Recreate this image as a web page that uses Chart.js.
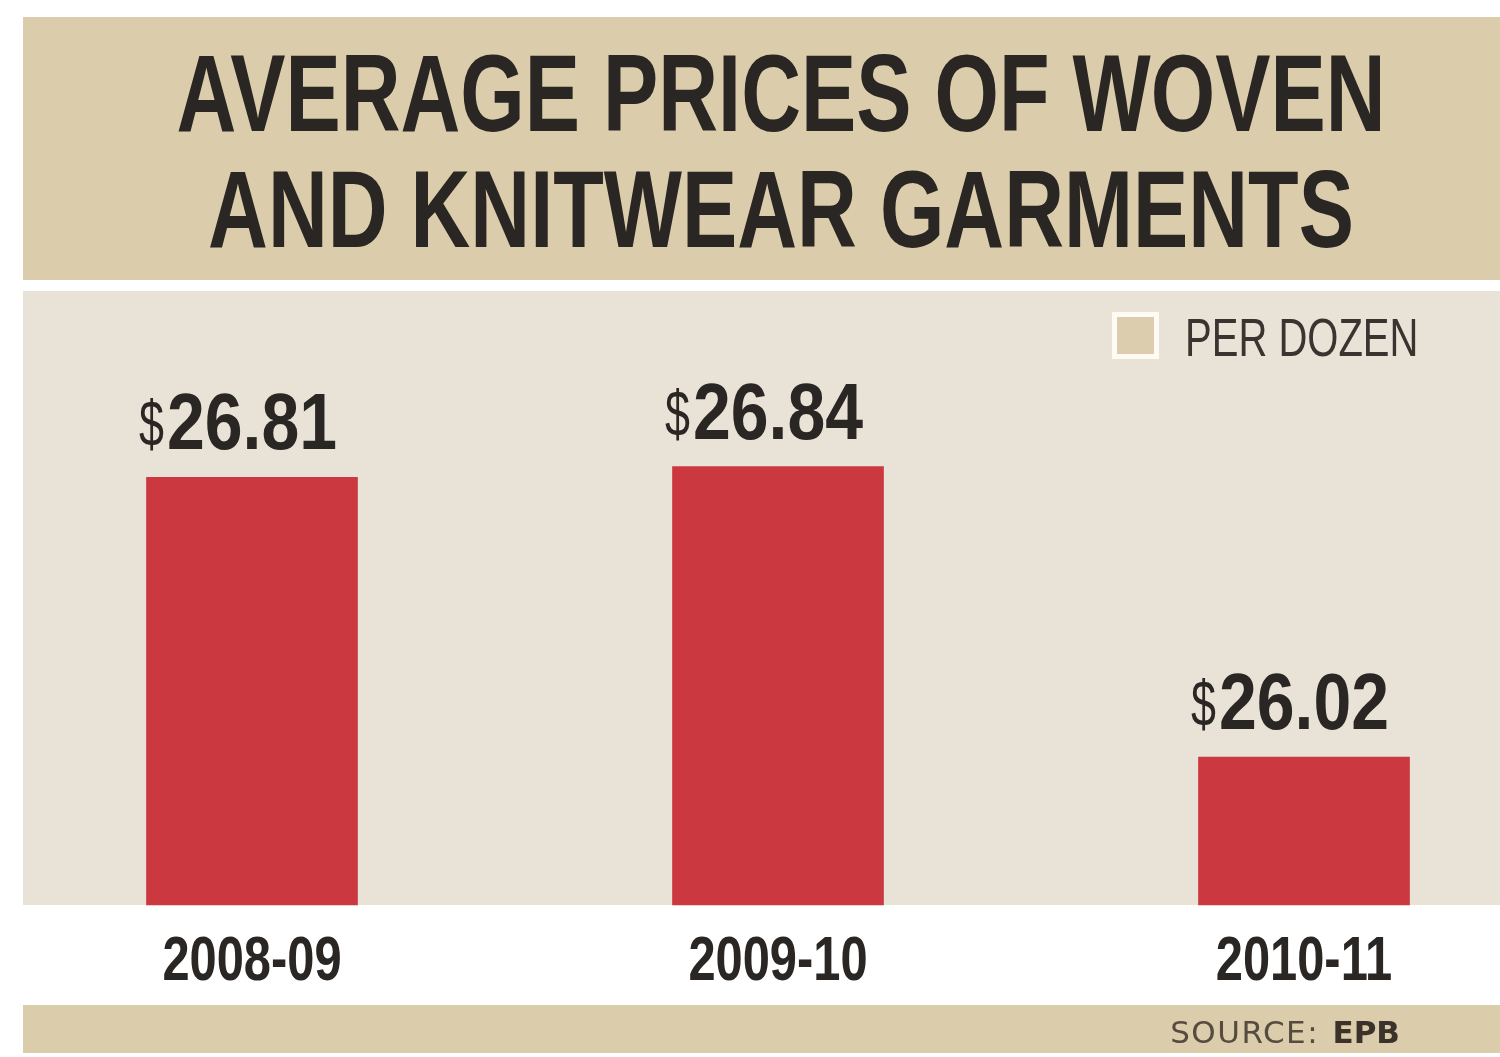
<!DOCTYPE html>
<html>
<head>
<meta charset="utf-8">
<script src="https://cdn.jsdelivr.net/npm/chart.js@4.4.1/dist/chart.umd.min.js"></script>
<style>
  html, body { margin: 0; padding: 0; background: #ffffff; }
  #wrap { width: 1500px; height: 1057px; }
</style>
</head>
<body>
<div id="wrap"><canvas id="priceChart" width="1500" height="1057"></canvas></div>
<script>
// data
const years = ["2008-09", "2009-10", "2010-11"];
const prices = [26.81, 26.84, 26.02];
const titleLines = ["AVERAGE PRICES OF WOVEN", "AND KNITWEAR GARMENTS"];
const legendText = "PER DOZEN";
const sourceName = "EPB";
const yMin = 25.602;
const yMax = 27.336;

const SANS = "'Liberation Sans', Arial, sans-serif";
const INK = "#2a2624";
const BAND_DARK = "#dbcdab";
const BAND_LIGHT = "#e9e2d6";
const BAR_RED = "#cc3840";

// draws text squeezed horizontally, like a condensed face
function narrowText(ctx, text, x, y, font, squeeze, align) {
    ctx.save();
    ctx.font = font;
    ctx.textAlign = "left";
    ctx.textBaseline = "alphabetic";
    const w = ctx.measureText(text).width * squeeze;
    let left = x;
    if (align === "center") left = x - w / 2;
    if (align === "right") left = x - w;
    ctx.translate(left, y);
    ctx.scale(squeeze, 1);
    ctx.fillText(text, 0, 0);
    ctx.restore();
    return w;
}

// backgrounds, title, legend, x labels, source line
const decorations = {
    id: "decorations",
    beforeDraw(chart) {
        const { ctx, chartArea: { top, bottom } } = chart;
        ctx.save();
        ctx.fillStyle = "#ffffff";
        ctx.fillRect(0, 0, chart.width, chart.height);
        ctx.fillStyle = BAND_DARK;
        ctx.fillRect(23, 17, chart.width - 23, top - 28); // title band
        ctx.fillStyle = BAND_LIGHT;
        ctx.fillRect(23, top, chart.width - 23, bottom - top); // plot band
        ctx.fillStyle = BAND_DARK;
        ctx.fillRect(23, 1005, chart.width - 23, 48); // source band
        ctx.restore();
    },
    afterDraw(chart) {
        const { ctx, chartArea: { top, bottom } } = chart;
        const x = chart.scales.x;
        ctx.save();
        // title
        ctx.fillStyle = INK;
        ctx.strokeStyle = INK;
        narrowText(ctx, titleLines[0], 781, 131, "bold 109px " + SANS, 0.76, "center");
        narrowText(ctx, titleLines[1], 781, 247, "bold 109px " + SANS, 0.76, "center");
        // legend
        ctx.fillStyle = "#fdfbf3";
        ctx.fillRect(1112, top + 21, 47, 47);
        ctx.fillStyle = "#dccdae";
        ctx.fillRect(1117, top + 26, 37, 37);
        ctx.fillStyle = "#3a3431";
        narrowText(ctx, legendText, 1185, top + 65, "53px " + SANS, 0.755, "left");
        // category labels under the bars
        ctx.fillStyle = INK;
        years.forEach((yr, i) => {
            narrowText(ctx, x.getLabelForValue(i), x.getPixelForValue(i), bottom + 75,
                "bold 63px " + SANS, 0.775, "center");
        });
        // source
        ctx.textAlign = "right";
        ctx.textBaseline = "alphabetic";
        ctx.font = "bold 31px 'DejaVu Sans', sans-serif";
        ctx.fillStyle = "#3b332b";
        const w = ctx.measureText(sourceName).width;
        ctx.fillText(sourceName, 1400, 1043);
        ctx.font = "31px 'DejaVu Sans', sans-serif";
        ctx.letterSpacing = "1.5px";
        ctx.fillStyle = "#564b3f";
        ctx.fillText("SOURCE: ", 1400 - w - 2, 1043);
        ctx.restore();
    },
};

// "$26.81" labels over the bars
const valueLabels = {
    id: "valueLabels",
    afterDatasetsDraw(chart) {
        const { ctx } = chart;
        const meta = chart.getDatasetMeta(0);
        ctx.save();
        ctx.fillStyle = INK;
        meta.data.forEach((bar, i) => {
            const y = bar.y - 28;
            const w = narrowText(ctx, prices[i].toFixed(2), bar.x, y, "bold 80px " + SANS, 0.85, "center");
            narrowText(ctx, "$", bar.x - w / 2 - 3, y - 3, "64px " + SANS, 0.7, "right");
        });
        ctx.restore();
    },
};

const config = {
    type: "bar",
    data: {
        labels: years,
        datasets: [
            {
                label: legendText,
                data: prices,
                base: yMin,
                backgroundColor: BAR_RED,
                borderWidth: 0,
                barThickness: 211,
                clip: false,
            },
        ],
    },
    options: {
        responsive: false,
        animation: false,
        layout: {
            padding: { left: 252, right: 196, top: 291, bottom: 152 },
        },
        plugins: {
            legend: { display: false },
            tooltip: { enabled: false },
            title: { display: false },
        },
        scales: {
            x: {
                display: false,
                offset: false,
            },
            y: {
                display: false,
                min: yMin,
                max: yMax,
            },
        },
    },
    plugins: [decorations, valueLabels],
};

var ctx = document.getElementById("priceChart").getContext("2d");
var priceChart = new Chart(ctx, config);
</script>
</body>
</html>
